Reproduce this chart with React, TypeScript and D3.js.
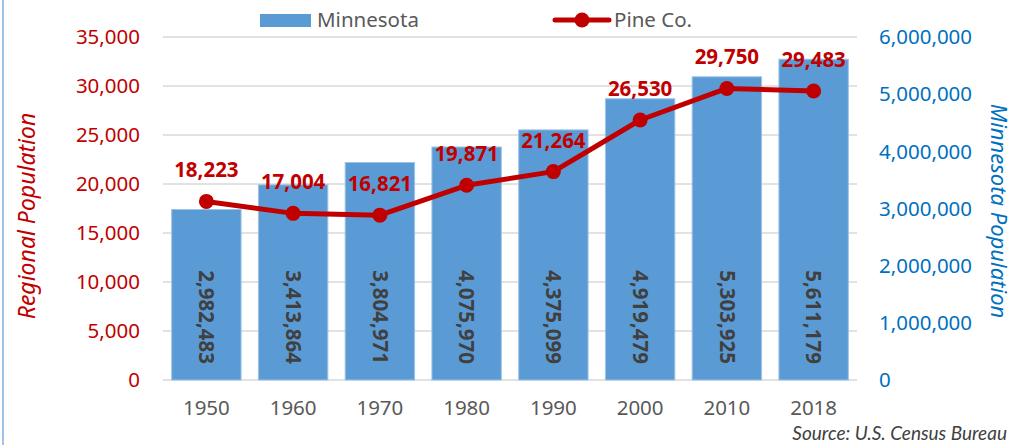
import React, { useEffect, useRef } from 'react';
import * as d3 from 'd3';

const years = ['1950', '1960', '1970', '1980', '1990', '2000', '2010', '2018'];
const minnesota = [2982483, 3413864, 3804971, 4075970, 4375099, 4919479, 5303925, 5611179];
const pineCo = [18223, 17004, 16821, 19871, 21264, 26530, 29750, 29483];
const leftTicks = [0, 5000, 10000, 15000, 20000, 25000, 30000, 35000];
const rightTicks = [0, 1000000, 2000000, 3000000, 4000000, 5000000, 6000000];

const W = 1015;
const H = 445;
const FONT = '"Noto Sans", sans-serif';
const RED = '#C00000';
const BLUE = '#0070C0';
const BAR = '#5B9BD5';

function App() {
  const ref = useRef<SVGSVGElement>(null);

  useEffect(() => {
    const svg = d3.select(ref.current);
    svg.selectAll('*').remove();

    const left = 163, right = 857, top = 37, bottom = 380;
    const fmt = d3.format(',');

    const x = d3.scaleBand().domain(years).range([left, right]).paddingInner(0.2).paddingOuter(0.1);
    const yL = d3.scaleLinear().domain([0, 35000]).range([bottom, top]);
    const yR = d3.scaleLinear().domain([0, 6000000]).range([bottom, top]);

    // frame line on the left
    svg.append('line').attr('x1', 3).attr('x2', 3).attr('y1', 0).attr('y2', H)
      .attr('stroke', '#9DC3E6').attr('stroke-width', 2);

    // gridlines
    svg.append('g').selectAll('line').data(leftTicks).enter().append('line')
      .attr('x1', left).attr('x2', right)
      .attr('y1', (d) => yL(d)).attr('y2', (d) => yL(d))
      .attr('stroke', '#D9D9D9').attr('stroke-width', 1.5);

    // left ticks
    svg.append('g').selectAll('text').data(leftTicks).enter().append('text')
      .attr('x', 140).attr('y', (d) => yL(d)).attr('dy', '0.35em')
      .attr('text-anchor', 'end').attr('fill', RED)
      .style('font', `20.5px ${FONT}`).text((d) => fmt(d));

    // right ticks
    svg.append('g').selectAll('text').data(rightTicks).enter().append('text')
      .attr('x', 879).attr('y', (d) => yR(d)).attr('dy', '0.35em')
      .attr('text-anchor', 'start').attr('fill', BLUE)
      .style('font', `20.5px ${FONT}`).text((d) => fmt(d));

    // x labels
    svg.append('g').selectAll('text').data(years).enter().append('text')
      .attr('x', (d) => x(d)! + x.bandwidth() / 2).attr('y', 415)
      .attr('text-anchor', 'middle').attr('fill', '#595959')
      .style('font', `20.5px ${FONT}`).text((d) => d);

    // axis titles
    svg.append('text')
      .attr('transform', `translate(35,216) rotate(-90)`)
      .attr('text-anchor', 'middle').attr('fill', RED)
      .style('font', `italic 23px ${FONT}`).text('Regional Population');
    svg.append('text')
      .attr('transform', `translate(991,211) rotate(90)`)
      .attr('text-anchor', 'middle').attr('fill', BLUE)
      .style('font', `italic 22px ${FONT}`).text('Minnesota Population');

    // bars
    svg.append('g').selectAll('rect').data(minnesota).enter().append('rect')
      .attr('x', (d, i) => x(years[i])!)
      .attr('y', (d) => yR(d))
      .attr('width', x.bandwidth())
      .attr('height', (d) => bottom - yR(d))
      .attr('fill', BAR).attr('stroke', '#9DC3E6').attr('stroke-width', 1);

    // bar labels
    svg.append('g').selectAll('text').data(minnesota).enter().append('text')
      .attr('transform', (d, i) => `translate(${x(years[i])! + x.bandwidth() / 2},${bottom - 16}) rotate(90)`)
      .attr('text-anchor', 'end').attr('dy', '0.35em').attr('fill', '#404040')
      .style('font', `bold 20.5px ${FONT}`).text((d) => fmt(d));

    // line
    const line = d3.line<number>()
      .x((d, i) => x(years[i])! + x.bandwidth() / 2)
      .y((d) => yL(d));
    svg.append('path').datum(pineCo)
      .attr('fill', 'none').attr('stroke', RED).attr('stroke-width', 5)
      .attr('stroke-linejoin', 'round').attr('d', line);
    svg.append('g').selectAll('circle').data(pineCo).enter().append('circle')
      .attr('cx', (d, i) => x(years[i])! + x.bandwidth() / 2)
      .attr('cy', (d) => yL(d)).attr('r', 7.5).attr('fill', RED);
    svg.append('g').selectAll('text').data(pineCo).enter().append('text')
      .attr('x', (d, i) => x(years[i])! + x.bandwidth() / 2)
      .attr('y', (d) => yL(d) - 24)
      .attr('text-anchor', 'middle').attr('fill', RED)
      .style('font', `bold 20.5px ${FONT}`).text((d) => fmt(d));

    // legend
    const lg = svg.append('g');
    lg.append('rect').attr('x', 260).attr('y', 14).attr('width', 51).attr('height', 13).attr('fill', BAR);
    lg.append('text').attr('x', 317).attr('y', 20).attr('dy', '0.35em').attr('fill', '#595959')
      .style('font', `20.5px ${FONT}`).text('Minnesota');
    lg.append('line').attr('x1', 555).attr('x2', 609).attr('y1', 20).attr('y2', 20)
      .attr('stroke', RED).attr('stroke-width', 5).attr('stroke-linecap', 'round');
    lg.append('circle').attr('cx', 582).attr('cy', 20).attr('r', 7.5).attr('fill', RED);
    lg.append('text').attr('x', 614).attr('y', 20).attr('dy', '0.35em').attr('fill', '#595959')
      .style('font', `20.5px ${FONT}`).text('Pine Co.');

    // source
    svg.append('text').attr('x', 1007).attr('y', 440).attr('text-anchor', 'end')
      .attr('fill', '#404040').style('font', 'italic 19px Lato, sans-serif').text('Source: U.S. Census Bureau');
  }, []);

  return (
    <div style={{ position: 'absolute', left: 0, top: 0 }}>
      <svg ref={ref} width={W} height={H} style={{ display: 'block', background: '#fff' }} />
    </div>
  );
}

export default App;
